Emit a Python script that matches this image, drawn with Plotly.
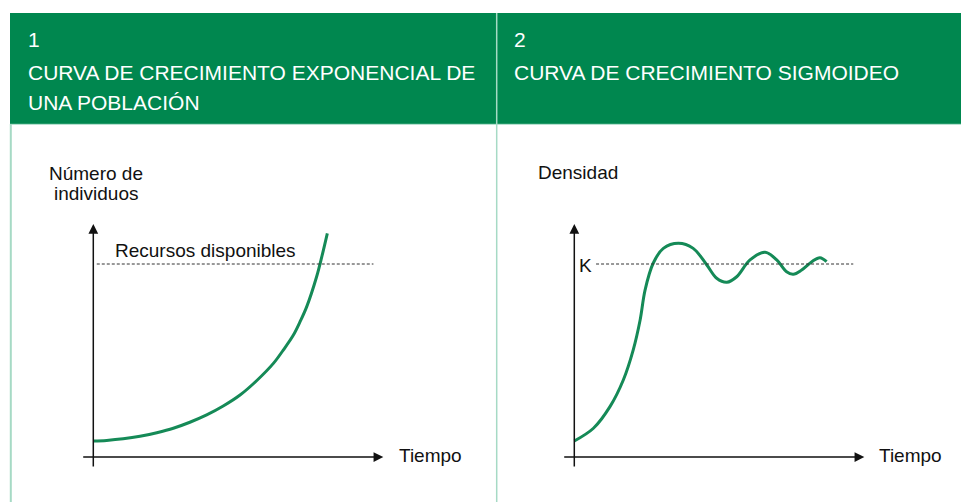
import plotly.graph_objects as go

# page body has an 8px margin; the figure is placed at (8, 8)
OFF = 8
W, H = 969 - OFF, 502 - OFF

# ---------------- data ----------------
# Panel 1: exponential growth (time, number of individuals); resources level = 10
exp_t = [0, 0.46, 1.03, 1.61, 2.19, 2.76, 3.33, 3.91, 4.48, 5.06, 5.63, 6.21,
         6.55, 6.90, 7.13, 7.36, 7.70, 7.88, 8.07]
exp_n = [0.83, 0.86, 0.94, 1.07, 1.26, 1.49, 1.80, 2.18, 2.64, 3.21, 3.95, 4.85,
         5.54, 6.32, 7.01, 7.79, 9.34, 10.38, 11.59]
resources_level = 10

# Panel 2: sigmoid growth with oscillation around K = 10
sig_t = [0, 0.66, 1.23, 1.69, 2.03, 2.27, 2.44, 2.72, 3.07, 3.59, 4.10, 4.57,
         4.91, 5.26, 5.60, 6.06, 6.58, 6.98, 7.32, 7.55, 7.84, 8.19, 8.47, 8.70]
sig_d = [0.83, 1.49, 2.61, 3.99, 5.54, 7.10, 8.65, 10.04, 10.81, 11.07, 10.81, 9.95,
         9.26, 9.05, 9.34, 10.21, 10.61, 10.21, 9.60, 9.47, 9.69, 10.12, 10.33, 10.12]
K_level = 10

titles_num = ["1", "2"]
titles_1 = ["CURVA DE CRECIMIENTO EXPONENCIAL DE", "CURVA DE CRECIMIENTO SIGMOIDEO"]
titles_2 = ["UNA POBLACIÓN", ""]
xlabel = "Tiempo"
ylabel_1 = ["Número de", "individuos"]
ylabel_2 = "Densidad"
resources_label = "Recursos disponibles"
k_label = "K"

# ---------------- layout helpers ----------------
GREEN = "#00874f"
LINE_GREEN = "#158a57"
BORDER = "#a6dac5"
FONT = "Liberation Sans, Arial, sans-serif"

def px(x):
    return (x - OFF) / W

def py(y):
    return 1 - (y - OFF) / H

XS, YS = 29.0, 19.3            # pixels per data unit
ORIG = [(93.3, 457.0), (574.3, 457.0)]
DX0, DX1 = -25, 330             # domain extent around origin (px)
DY_TOP, DY_BOT = 210, 480        # domain extent (px from top)

fig = go.Figure()

# curves
fig.add_trace(go.Scatter(x=exp_t, y=exp_n, mode="lines", xaxis="x", yaxis="y",
                         line=dict(color=LINE_GREEN, width=3, shape="spline", smoothing=1.0),
                         hoverinfo="skip", showlegend=False))
fig.add_trace(go.Scatter(x=sig_t, y=sig_d, mode="lines", xaxis="x2", yaxis="y2",
                         line=dict(color=LINE_GREEN, width=3, shape="spline", smoothing=1.0),
                         hoverinfo="skip", showlegend=False))

layout_axes = {}
for i, (ox, oy) in enumerate(ORIG):
    sfx = "" if i == 0 else str(i + 1)
    xr = [DX0 / XS, DX1 / XS]
    yr = [(oy - DY_BOT) / YS, (oy - DY_TOP) / YS]
    layout_axes["xaxis" + sfx] = dict(domain=[px(ox + DX0), px(ox + DX1)], range=xr,
                                      visible=False, fixedrange=True,
                                      anchor="y" + sfx)
    layout_axes["yaxis" + sfx] = dict(domain=[py(DY_BOT), py(DY_TOP)], range=yr,
                                      visible=False, fixedrange=True,
                                      anchor="x" + sfx)

shapes = []
# header band
shapes.append(dict(type="rect", xref="paper", yref="paper",
                   x0=px(10), x1=px(969), y0=py(124), y1=py(13),
                   fillcolor=GREEN, line=dict(width=0), layer="below"))
# panel borders
shapes.append(dict(type="line", xref="paper", yref="paper",
                   x0=px(10.8), x1=px(10.8), y0=py(124), y1=py(502),
                   line=dict(color=BORDER, width=2)))
shapes.append(dict(type="line", xref="paper", yref="paper",
                   x0=px(496.7), x1=px(496.7), y0=py(13), y1=py(502),
                   line=dict(color=BORDER, width=1.5)))
shapes.append(dict(type="line", xref="paper", yref="paper",
                   x0=px(10), x1=px(969), y0=py(124.3), y1=py(124.3),
                   line=dict(color=BORDER, width=1)))
# dashed reference lines
shapes.append(dict(type="line", xref="x", yref="y", x0=0.12, x1=9.66,
                   y0=resources_level, y1=resources_level,
                   line=dict(color="#333333", width=1, dash="3px,2px")))
shapes.append(dict(type="line", xref="x2", yref="y2", x0=0.75, x1=9.62,
                   y0=K_level, y1=K_level,
                   line=dict(color="#333333", width=1, dash="3px,2px")))

annotations = []
# axis arrows
for sfx in ["", "2"]:
    annotations.append(dict(xref="x" + sfx, yref="y" + sfx, axref="x" + sfx, ayref="y" + sfx,
                            x=10.0, y=0, ax=-0.4, ay=0, text="", showarrow=True,
                            arrowhead=2, arrowsize=1.3, arrowwidth=1.5, arrowcolor="#111111"))
    annotations.append(dict(xref="x" + sfx, yref="y" + sfx, axref="x" + sfx, ayref="y" + sfx,
                            x=0, y=12.07, ax=0, ay=-0.57, text="", showarrow=True,
                            arrowhead=2, arrowsize=1.3, arrowwidth=1.5, arrowcolor="#111111"))

def txt(text, x, y, size, color="#111111", xanchor="left"):
    annotations.append(dict(xref="paper", yref="paper", x=px(x), y=py(y), text=text,
                            showarrow=False, xanchor=xanchor, yanchor="middle",
                            font=dict(family=FONT, size=size, color=color)))

# header texts
hx = [26, 511.5]
for i in range(2):
    txt(titles_num[i], hx[i], 40, 21, "white")
    txt(titles_1[i], hx[i], 72, 21, "white")
    if titles_2[i]:
        txt(titles_2[i], hx[i], 103, 21, "white")

# chart labels
txt(ylabel_1[0], 96, 174, 19, xanchor="center")
txt(ylabel_1[1], 96, 193, 19, xanchor="center")
txt(resources_label, 112.5, 250, 19)
txt(xlabel, 397, 455, 19)
txt(ylabel_2, 535.5, 172, 19)
txt(xlabel, 876.5, 455, 19)
txt(k_label, 585, 265, 19, xanchor="center")

fig.update_layout(width=W, height=H, margin=dict(l=0, r=0, t=0, b=0),
                  paper_bgcolor="white", plot_bgcolor="rgba(0,0,0,0)",
                  shapes=shapes, annotations=annotations, showlegend=False,
                  **layout_axes)

fig.write_html("out.html")
